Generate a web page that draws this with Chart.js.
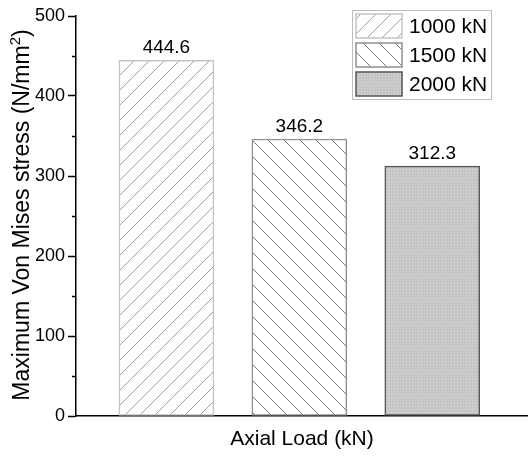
<!DOCTYPE html>
<html>
<head>
<meta charset="utf-8">
<script src="https://cdn.jsdelivr.net/npm/chart.js@4.4.1/dist/chart.umd.min.js"></script>
<style>
  html, body { margin: 0; padding: 0; background: #fff; }
  #wrap { width: 528px; height: 456px; }
</style>
</head>
<body>
<div id="wrap"><canvas id="myChart"></canvas></div>
<script>
  var loads = ['1000 kN', '1500 kN', '2000 kN'];
  var positions = [1, 2, 3];
  var stress = [444.6, 346.2, 312.3];
  var yTicks = [0, 100, 200, 300, 400, 500];
  var yMinorTicks = [50, 150, 250, 350, 450];

  var FONT = '"Liberation Sans", Arial, sans-serif';

  // hatch fills
  function hatch(dir, color, size) {
    var c = document.createElement('canvas');
    c.width = size; c.height = size;
    var g = c.getContext('2d');
    g.fillStyle = '#fff';
    g.fillRect(0, 0, size, size);
    g.strokeStyle = color;
    g.lineWidth = 1;
    g.beginPath();
    if (dir > 0) {
      g.moveTo(0, size); g.lineTo(size, 0);
      g.moveTo(-1, 1); g.lineTo(1, -1);
      g.moveTo(size - 1, size + 1); g.lineTo(size + 1, size - 1);
    } else {
      g.moveTo(0, 0); g.lineTo(size, size);
      g.moveTo(size - 1, -1); g.lineTo(size + 1, 1);
      g.moveTo(-1, size - 1); g.lineTo(1, size + 1);
    }
    g.stroke();
    return g.createPattern(c, 'repeat');
  }
  function dots() {
    var c = document.createElement('canvas');
    c.width = 3; c.height = 3;
    var g = c.getContext('2d');
    g.fillStyle = '#c6c6c6';
    g.fillRect(0, 0, 3, 3);
    g.fillStyle = '#dadada';
    g.fillRect(1, 1, 1, 1);
    return g.createPattern(c, 'repeat');
  }

  var fills = [hatch(1, '#a0a0a0', 15), hatch(-1, '#7a7a7a', 16), dots()];
  var borders = ['#c4c4c4', '#8f8f8f', '#555555'];

  Chart.defaults.font.family = FONT;
  Chart.defaults.color = '#000';

  var datasets = loads.map(function (name, i) {
    return {
      label: name,
      data: [{ x: positions[i], y: stress[i] }],
      backgroundColor: fills[i],
      borderColor: borders[i],
      borderWidth: 1.5,
      borderSkipped: false,
      barThickness: 95,
      grouped: false
    };
  });

  var extras = {
    id: 'extras',
    afterDatasetsDraw: function (chart) {
      var ctx = chart.ctx;
      ctx.save();
      // value labels
      ctx.font = '19px ' + FONT;
      ctx.fillStyle = '#000';
      ctx.textAlign = 'center';
      ctx.textBaseline = 'bottom';
      chart.data.datasets.forEach(function (ds, i) {
        var bar = chart.getDatasetMeta(i).data[0];
        ctx.fillText(stress[i].toFixed(1), bar.x, bar.y - 3);
      });
      // minor ticks
      var ys = chart.scales.y;
      ctx.strokeStyle = '#000';
      ctx.lineWidth = 1.5;
      yMinorTicks.forEach(function (v) {
        var py = Math.round(ys.getPixelForValue(v)) + 0.5;
        ctx.beginPath();
        ctx.moveTo(ys.right - 4, py);
        ctx.lineTo(ys.right, py);
        ctx.stroke();
      });
      // y axis title with superscript
      var main = 'Maximum Von Mises stress (N/mm', sup = '2', tail = ')';
      ctx.font = '23px ' + FONT;
      var w1 = ctx.measureText(main).width, w3 = ctx.measureText(tail).width;
      ctx.font = '15px ' + FONT;
      var w2 = ctx.measureText(sup).width;
      var cy = (ys.top + ys.bottom) / 2 - 1;
      ctx.translate(29, cy);
      ctx.rotate(-Math.PI / 2);
      ctx.textAlign = 'left';
      ctx.textBaseline = 'alphabetic';
      var sx = -(w1 + w2 + w3) / 2;
      ctx.font = '23px ' + FONT;
      ctx.fillText(main, sx, 0);
      ctx.fillText(tail, sx + w1 + w2, 0);
      ctx.font = '15px ' + FONT;
      ctx.fillText(sup, sx + w1, -9);
      ctx.setTransform(1, 0, 0, 1, 0, 0);
      // legend box
      var bx = 352, by = 10, bw = 139, bh = 89;
      ctx.fillStyle = '#fff';
      ctx.fillRect(bx, by, bw, bh);
      ctx.strokeStyle = '#bdbdbd';
      ctx.lineWidth = 1;
      ctx.strokeRect(bx + 0.5, by + 0.5, bw, bh);
      ctx.font = '21px ' + FONT;
      ctx.textAlign = 'left';
      ctx.textBaseline = 'middle';
      loads.forEach(function (name, i) {
        var sy = 14 + i * 29;
        ctx.fillStyle = fills[i];
        ctx.fillRect(356, sy, 46, 24);
        ctx.strokeStyle = borders[i];
        ctx.lineWidth = 1.5;
        ctx.strokeRect(356, sy, 46, 24);
        ctx.fillStyle = '#000';
        ctx.fillText(name, 409, sy + 13);
      });
      ctx.restore();
    }
  };

  var config = {
    type: 'bar',
    data: { datasets: datasets },
    options: {
      responsive: true,
      maintainAspectRatio: false,
      animation: false,
      layout: { padding: { top: 16, right: 0, left: 0, bottom: 0 } },
      plugins: {
        legend: { display: false },
        tooltip: { enabled: false }
      },
      scales: {
        x: {
          type: 'linear',
          min: 0.32,
          max: 3.72,
          offset: false,
          grid: { display: false, offset: false },
          border: { display: true, color: '#000', width: 1.5 },
          ticks: { display: false },
          title: {
            display: true,
            text: 'Axial Load (kN)',
            font: { size: 21 },
            padding: { top: 4, bottom: 4 }
          },
          afterFit: function (s) { s.height = 40; }
        },
        y: {
          min: 0,
          max: 500,
          afterBuildTicks: function (s) {
            s.ticks = yTicks.map(function (v) { return { value: v }; });
          },
          grid: {
            drawOnChartArea: false,
            drawTicks: true,
            tickLength: 8,
            tickColor: '#000',
            tickWidth: 1.5
          },
          border: { display: true, color: '#000', width: 1.5 },
          ticks: { font: { size: 18 }, padding: 3 },
          title: { display: false },
          afterFit: function (s) { s.width = 76; }
        }
      }
    },
    plugins: [extras]
  };

  var myChart = new Chart(document.getElementById('myChart'), config);
</script>
</body>
</html>
